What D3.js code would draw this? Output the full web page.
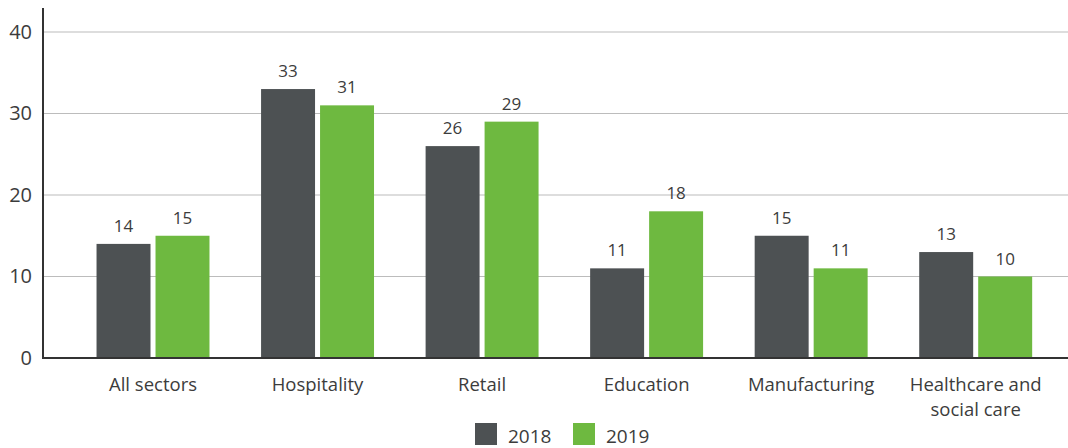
<!DOCTYPE html>
<html>
<head>
<meta charset="utf-8">
<script src="https://cdn.jsdelivr.net/npm/d3@7"></script>
<style>
  html, body { margin: 0; padding: 0; background: #fff; }
  svg { display: block; font-family: "Open Sans", sans-serif; }
</style>
</head>
<body>
<svg id="chart" width="1068" height="448"></svg>
<script>
// Sectors and yearly values
const categories = ["All sectors", "Hospitality", "Retail", "Education", "Manufacturing", "Healthcare and social care"];
const years = ["2018", "2019"];
const values2018 = [14, 33, 26, 11, 15, 13];
const values2019 = [15, 31, 29, 18, 11, 10];
const yTicks = [0, 10, 20, 30, 40];

const colors = { "2018": "#4d5153", "2019": "#6eb940" };
const textColor = "#3c3c3c";

const svg = d3.select("#chart");
const axisX = 43, plotTop = 8, baseY = 358, plotRight = 1068;

const y = d3.scaleLinear().domain([0, 40]).range([baseY, 32]);
const x = d3.scaleBand().domain(categories).range([70.7, 1058]).paddingInner(0.3135).paddingOuter(0.157);
const xs = d3.scaleBand().domain(years).range([0, x.bandwidth()]).paddingInner(0.085);

const rows = categories.map((c, i) => ({ cat: c, vals: [
  { year: "2018", v: values2018[i] },
  { year: "2019", v: values2019[i] }
]}));

// Horizontal gridlines
svg.append("g").selectAll("line").data(yTicks.filter(t => t > 0)).join("line")
  .attr("x1", axisX).attr("x2", plotRight)
  .attr("y1", d => y(d)).attr("y2", d => y(d))
  .attr("stroke", "#bcbcbc").attr("stroke-width", 1.2);

// Y tick labels
const yAxis = d3.axisLeft(y).tickValues(yTicks).tickSize(0).tickPadding(11);
const yg = svg.append("g").attr("transform", `translate(${axisX},0)`).call(yAxis);
yg.select(".domain").remove();
yg.selectAll("text").attr("fill", textColor).attr("font-size", 20)
  .attr("font-family", "'Open Sans', sans-serif");

// Bars
const groups = svg.append("g").selectAll("g").data(rows).join("g")
  .attr("transform", d => `translate(${x(d.cat)},0)`);
groups.selectAll("rect").data(d => d.vals).join("rect")
  .attr("x", d => xs(d.year)).attr("width", xs.bandwidth())
  .attr("y", d => y(d.v)).attr("height", d => baseY - y(d.v))
  .attr("fill", d => colors[d.year]);
groups.selectAll("text.val").data(d => d.vals).join("text")
  .attr("class", "val")
  .attr("x", d => xs(d.year) + xs.bandwidth() / 2)
  .attr("y", d => y(d.v) - 12)
  .attr("text-anchor", "middle")
  .attr("font-size", 17).attr("fill", textColor)
  .text(d => d.v);

// Axes lines
svg.append("line").attr("x1", axisX).attr("x2", axisX).attr("y1", plotTop).attr("y2", baseY + 1)
  .attr("stroke", "#333").attr("stroke-width", 2);
svg.append("line").attr("x1", axisX).attr("x2", plotRight).attr("y1", baseY).attr("y2", baseY)
  .attr("stroke", "#333").attr("stroke-width", 2);

// Category labels (wrapped where needed)
const wrapLines = { "Healthcare and social care": ["Healthcare and", "social care"] };
const xg = svg.append("g");
categories.forEach(c => {
  const lines = wrapLines[c] || [c];
  const t = xg.append("text")
    .attr("x", x(c) + x.bandwidth() / 2).attr("y", 391)
    .attr("text-anchor", "middle").attr("font-size", 18.5).attr("fill", textColor);
  lines.forEach((ln, i) => t.append("tspan")
    .attr("x", x(c) + x.bandwidth() / 2).attr("dy", i === 0 ? 0 : 25).text(ln));
});

// Legend
const legend = svg.append("g");
const legendItems = [{ year: "2018", x: 475 }, { year: "2019", x: 573 }];
legendItems.forEach(it => {
  legend.append("rect").attr("x", it.x).attr("y", 423).attr("width", 22).attr("height", 22)
    .attr("fill", colors[it.year]);
  legend.append("text").attr("x", it.x + 33).attr("y", 443)
    .attr("font-size", 19).attr("fill", textColor).text(it.year);
});
</script>
</body>
</html>
